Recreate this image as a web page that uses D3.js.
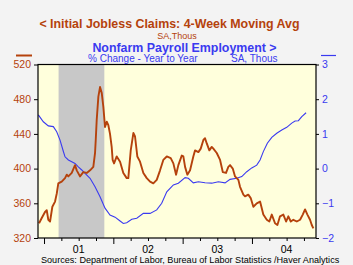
<!DOCTYPE html>
<html><head><meta charset="utf-8">
<script src="https://cdn.jsdelivr.net/npm/d3@7"></script>
<style>body{margin:0;background:#f3f3f3;}svg{display:block;font-family:"Liberation Sans",Arial,sans-serif;}</style>
</head><body><svg id="c" width="353" height="265"></svg>
<script>
// Initial jobless claims, 4-week moving average (thous), decimal-year dates
const claimsT = [2000.928,2000.967,2001.014,2001.039,2001.062,2001.087,2001.120,2001.159,2001.183,2001.206,2001.255,2001.303,2001.328,2001.351,2001.400,2001.447,2001.472,2001.519,2001.567,2001.616,2001.664,2001.711,2001.736,2001.746,2001.760,2001.784,2001.808,2001.833,2001.856,2001.880,2001.905,2001.928,2001.952,2001.976,2001.990,2002.010,2002.049,2002.097,2002.144,2002.193,2002.216,2002.251,2002.289,2002.313,2002.346,2002.385,2002.433,2002.482,2002.530,2002.577,2002.626,2002.674,2002.721,2002.771,2002.828,2002.866,2002.905,2002.938,2002.987,2003.010,2003.035,2003.068,2003.107,2003.154,2003.179,2003.227,2003.261,2003.299,2003.323,2003.348,2003.385,2003.420,2003.443,2003.492,2003.540,2003.579,2003.626,2003.659,2003.684,2003.723,2003.756,2003.804,2003.828,2003.876,2003.900,2003.947,2003.982,2004.020,2004.069,2004.117,2004.164,2004.214,2004.251,2004.286,2004.333,2004.367,2004.405,2004.453,2004.492,2004.525,2004.560,2004.597,2004.647,2004.694,2004.733,2004.766,2004.800,2004.838,2004.863,2004.886];
const claimsV = [337,343,350,352,341,339,356,362,371,383,385,389,393,391,395,404,398,391,396,395,398,402,418,433,456,483,494,487,471,448,454,450,440,425,410,406,414,408,395,389,389,421,441,437,414,408,395,389,385,383,387,398,410,414,412,406,393,404,415,414,402,393,398,414,421,419,423,433,435,429,421,425,423,418,410,396,395,402,404,400,391,387,379,370,368,370,366,356,360,362,347,341,339,347,337,335,345,347,339,345,339,341,339,341,347,353,347,341,335,331];
// Nonfarm payroll employment, % change year to year
const payT = [2000.918,2000.990,2001.062,2001.134,2001.183,2001.231,2001.278,2001.303,2001.351,2001.400,2001.447,2001.495,2001.544,2001.592,2001.664,2001.736,2001.808,2001.880,2001.952,2002.025,2002.097,2002.144,2002.193,2002.266,2002.338,2002.433,2002.530,2002.626,2002.698,2002.771,2002.866,2002.938,2003.035,2003.082,2003.154,2003.227,2003.323,2003.420,2003.515,2003.612,2003.684,2003.781,2003.853,2003.925,2003.997,2004.069,2004.117,2004.164,2004.222,2004.286,2004.358,2004.430,2004.502,2004.574,2004.622,2004.670,2004.719,2004.781];
const payV = [1.55,1.35,1.23,1.21,1.06,0.82,0.50,0.34,0.25,0.20,0.15,0.05,-0.04,-0.14,-0.28,-0.52,-0.81,-1.14,-1.34,-1.40,-1.51,-1.58,-1.56,-1.46,-1.43,-1.29,-1.29,-1.19,-1.00,-0.67,-0.47,-0.42,-0.26,-0.28,-0.41,-0.38,-0.41,-0.42,-0.38,-0.41,-0.31,-0.28,-0.23,-0.09,0.02,0.10,0.25,0.49,0.73,0.90,1.02,1.11,1.19,1.31,1.37,1.38,1.50,1.61];
const recession = [2001.21, 2001.87];
const leftTicks = [320,360,400,440,480,520];
const rightTicks = [-2,-1,0,1,2,3];
const yearLabels = ["01","02","03","04"];
const yearStarts = [2001,2002,2003,2004];

const RED = "#b5420c", BLUE = "#3a3af0";
const L = 38, R = 316, T = 64.5, B = 238;
const svg = d3.select("#c");
const x = d3.scaleLinear().domain([2000.913, 2004.924]).range([L, R]);
const yL = d3.scaleLinear().domain([320, 520]).range([B, T]);
const yR = d3.scaleLinear().domain([-2, 3]).range([B, T]);

svg.append("rect").attr("x", L).attr("y", T).attr("width", R - L).attr("height", B - T).attr("fill", "#ffffdc");
svg.append("rect").attr("x", x(recession[0])).attr("y", T).attr("width", x(recession[1]) - x(recession[0])).attr("height", B - T).attr("fill", "#c8c8c8");

const lineL = d3.line().x((d, i) => x(claimsT[i])).y(d => yL(d));
const lineR = d3.line().x((d, i) => x(payT[i])).y(d => yR(d));
svg.append("path").attr("d", lineR(payV)).attr("fill", "none").attr("stroke", BLUE).attr("stroke-width", 1.1);
svg.append("path").attr("d", lineL(claimsV)).attr("fill", "none").attr("stroke", RED).attr("stroke-width", 1.9).attr("stroke-linejoin", "round");

svg.append("rect").attr("x", L).attr("y", T).attr("width", R - L).attr("height", B - T).attr("fill", "none").attr("stroke", "#000").attr("stroke-width", 1.2);

// left axis
const gl = svg.append("g").attr("transform", `translate(${L},0)`)
  .call(d3.axisLeft(yL).tickValues(leftTicks).tickSize(4).tickPadding(3).tickFormat(d3.format("d")));
gl.select(".domain").remove();
gl.selectAll("line").attr("stroke", "#000");
gl.selectAll("text").attr("fill", RED).attr("font-size", 10.5).attr("font-family", "Liberation Sans, Arial");
// right axis
const gr = svg.append("g").attr("transform", `translate(${R},0)`)
  .call(d3.axisRight(yR).tickValues(rightTicks).tickSize(3).tickPadding(3).tickFormat(d3.format("d")));
gr.select(".domain").remove();
gr.selectAll("line").attr("stroke", "#000");
gr.selectAll("text").attr("fill", BLUE).attr("font-size", 10.5).attr("font-family", "Liberation Sans, Arial");
// bottom axis
const minor = d3.range(2001, 2004.9, 0.25).filter(v => !yearStarts.includes(v));
const gbm = svg.append("g").attr("transform", `translate(0,${B})`)
  .call(d3.axisBottom(x).tickValues(minor).tickSize(3).tickFormat(""));
gbm.select(".domain").remove();
gbm.selectAll("line").attr("stroke", "#000");
const gb = svg.append("g").attr("transform", `translate(0,${B})`)
  .call(d3.axisBottom(x).tickValues(yearStarts).tickSize(6).tickFormat(""));
gb.select(".domain").remove();
gb.selectAll("line").attr("stroke", "#000");
svg.append("g").selectAll("text").data(yearLabels).join("text")
  .attr("x", (d, i) => x(yearStarts[i] + 0.5)).attr("y", 252.5).attr("text-anchor", "middle")
  .attr("font-size", 10.5).attr("fill", "#000").text(d => d);

// titles
svg.append("text").attr("x", 169.5).attr("y", 27.5).attr("text-anchor", "middle").attr("font-size", 12.4).attr("font-weight", "bold").attr("fill", RED).text("<  Initial Jobless Claims: 4-Week Moving Avg");
svg.append("text").attr("x", 177).attr("y", 38.5).attr("text-anchor", "middle").attr("font-size", 9).attr("fill", RED).text("SA,Thous");
svg.append("text").attr("x", 184.5).attr("y", 51.5).attr("text-anchor", "middle").attr("font-size", 12.4).attr("font-weight", "bold").attr("fill", BLUE).text("Nonfarm Payroll Employment  >");
svg.append("text").attr("x", 88).attr("y", 62).attr("font-size", 10).attr("fill", BLUE).text("% Change - Year to Year");
svg.append("text").attr("x", 231).attr("y", 62).attr("font-size", 10).attr("fill", BLUE).text("SA, Thous");
svg.append("line").attr("x1", 16).attr("x2", 32).attr("y1", 55.5).attr("y2", 55.5).attr("stroke", RED).attr("stroke-width", 2);
svg.append("line").attr("x1", 321).attr("x2", 336).attr("y1", 55.5).attr("y2", 55.5).attr("stroke", BLUE).attr("stroke-width", 1.2);
svg.append("text").attr("x", 41).attr("y", 263).attr("font-size", 9.1).attr("fill", "#000").text("Sources:  Department of Labor, Bureau of Labor Statistics /Haver Analytics");
</script></body></html>
